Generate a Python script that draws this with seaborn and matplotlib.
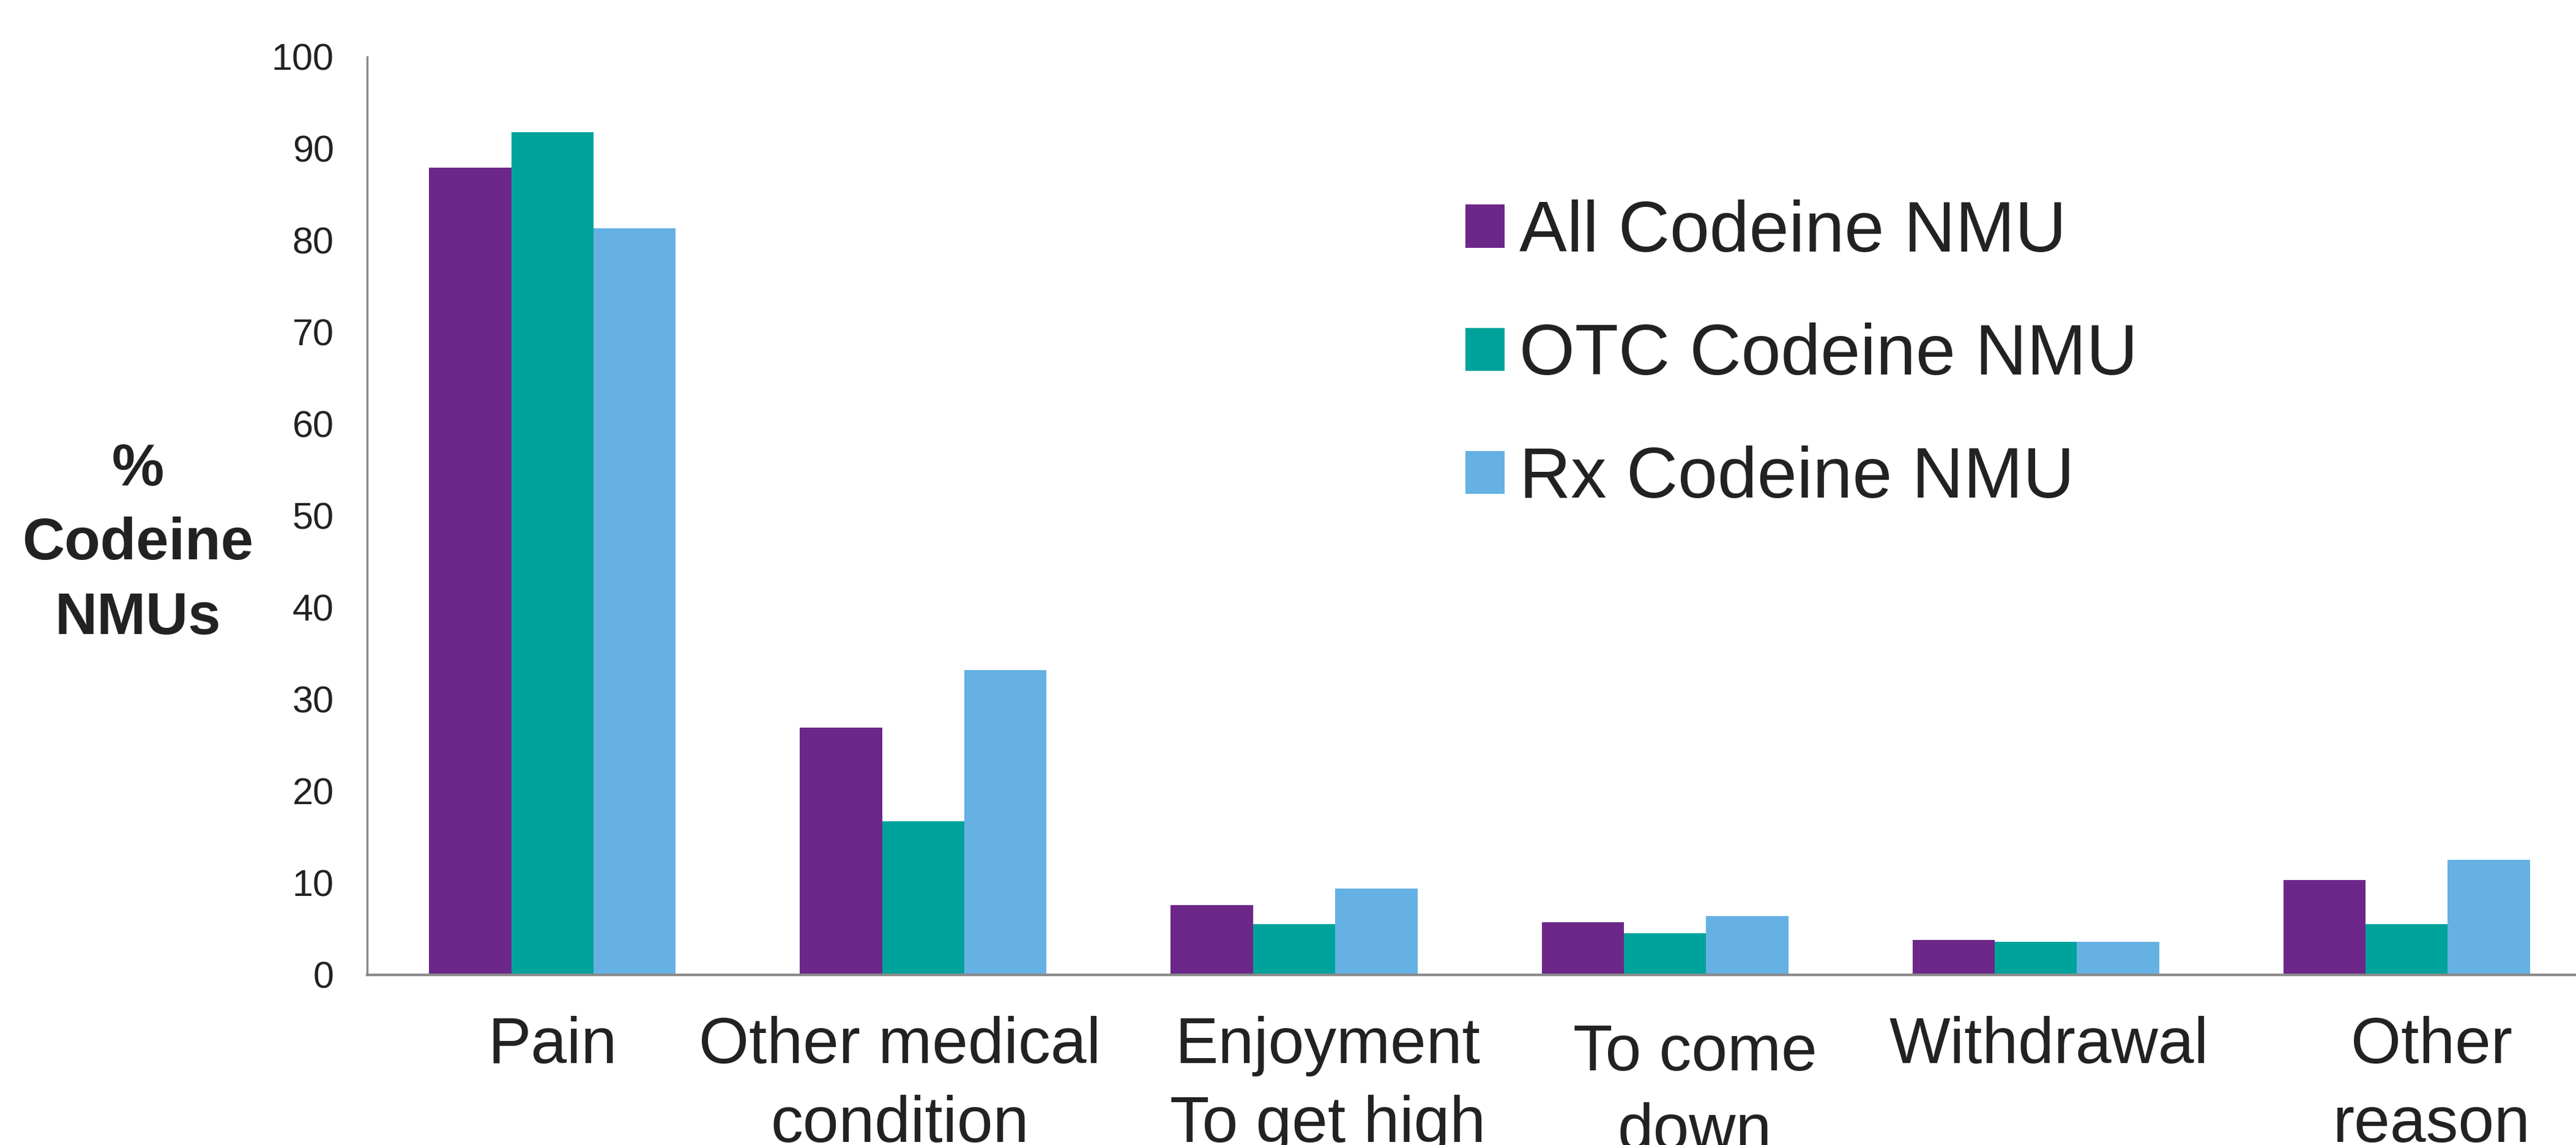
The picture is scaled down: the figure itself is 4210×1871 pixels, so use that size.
import pandas as pd
import seaborn as sns
import matplotlib.pyplot as plt
from matplotlib.transforms import ScaledTranslation

# data
categories = ['Pain', 'Other medical\ncondition', 'Enjoyment\nTo get high',
              'To come\ndown', 'Withdrawal', 'Other\nreason']
series_names = ['All Codeine NMU', 'OTC Codeine NMU', 'Rx Codeine NMU']
all_nmu = [87.9, 26.9, 7.6, 5.7, 3.8, 10.3]
otc_nmu = [91.8, 16.7, 5.5, 4.5, 3.6, 5.5]
rx_nmu = [81.3, 33.2, 9.4, 6.4, 3.6, 12.5]
colors = ['#6C2789', '#00A39B', '#65B1E3']
y_ticks = list(range(0, 101, 10))
# small nudges of the category labels (pixels), as placed in the original
label_shift_x = [0, -38, 55, 49, 21, 41]
label_shift_y = [0, 0, 0, -12, 0, 0]


def build_frame():
    rows = []
    for name, vals in zip(series_names, [all_nmu, otc_nmu, rx_nmu]):
        for cat, v in zip(categories, vals):
            rows.append({'reason': cat, 'group': name, 'pct': v})
    return pd.DataFrame(rows)


def draw():
    df = build_frame()
    sns.set_style('white')
    plt.rcParams['font.family'] = ['Liberation Sans', 'DejaVu Sans']
    text_color = '#222222'
    line_color = '#8a8a8a'

    fig = plt.figure(figsize=(42.1, 18.71), dpi=100)
    ax = fig.add_axes([0.1425, 0.1486, 0.8637, 0.8017])
    sns.barplot(data=df, x='reason', y='pct', hue='group', order=categories,
                hue_order=series_names, palette=colors, width=0.665, gap=0,
                saturation=1, linewidth=0, ax=ax)

    ax.set_xlim(-0.5, 5.5)
    ax.set_ylim(0, 100)
    ax.set_yticks(y_ticks)
    ax.set_xlabel('')
    ax.set_ylabel('%\nCodeine\nNMUs', rotation=0, fontsize=69, fontweight='bold',
                  color=text_color, linespacing=1.45, ha='center', va='center')
    ax.yaxis.set_label_coords(-0.103, 0.469)

    for side in ['top', 'right']:
        ax.spines[side].set_visible(False)
    for side in ['left', 'bottom']:
        ax.spines[side].set_color(line_color)
        ax.spines[side].set_linewidth(2.5)
    ax.spines['bottom'].set_linewidth(3)

    ax.tick_params(axis='y', which='major', direction='out', length=13, width=2,
                   color=line_color, labelsize=44, labelcolor=text_color, pad=26)
    ax.tick_params(axis='x', which='major', length=0, labelsize=76,
                   labelcolor=text_color, pad=48)
    ax.set_xticks([i - 0.5 for i in range(7)], minor=True)
    ax.tick_params(axis='x', which='minor', direction='out', length=12, width=2,
                   color=line_color)
    for lab, dx, dy in zip(ax.get_xticklabels(), label_shift_x, label_shift_y):
        lab.set_linespacing(1.4)
        lab.set_verticalalignment('top')
        lab.set_transform(lab.get_transform() +
                          ScaledTranslation(dx / 100, dy / 100, fig.dpi_scale_trans))

    ax.get_legend().remove()
    handles, labels = ax.get_legend_handles_labels()
    fig.legend(handles, labels, loc='upper left', bbox_to_anchor=(0.544, 0.882),
               frameon=False, fontsize=84, handlelength=0.55, handleheight=0.55,
               handletextpad=0.2, labelspacing=0.79, labelcolor=text_color)

    fig.savefig('out.png', dpi=100)


if __name__ == '__main__':
    draw()
